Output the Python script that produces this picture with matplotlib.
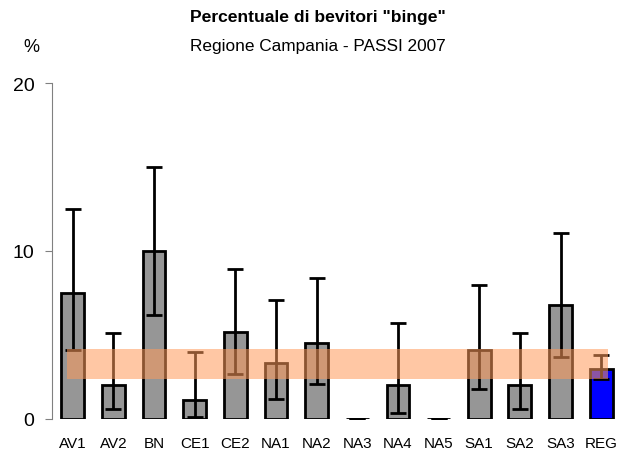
import matplotlib.pyplot as plt
import numpy as np

plt.rcParams['font.family'] = ['Liberation Sans', 'DejaVu Sans']

# Percentuale di bevitori binge per ASL, con intervalli di confidenza al 95%
asl = ['AV1', 'AV2', 'BN', 'CE1', 'CE2', 'NA1', 'NA2', 'NA3', 'NA4', 'NA5',
       'SA1', 'SA2', 'SA3', 'REG']
perc = [7.5, 2.0, 10.0, 1.1, 5.2, 3.3, 4.5, 0.0, 2.0, 0.0, 4.1, 2.0, 6.8, 3.0]
ic_inf = [4.1, 0.6, 6.2, 0.1, 2.7, 1.2, 2.1, 0.0, 0.35, 0.0, 1.8, 0.6, 3.7, 2.4]
ic_sup = [12.5, 5.1, 15.0, 4.0, 8.9, 7.1, 8.4, 0.0, 5.7, 0.0, 8.0, 5.1, 11.1, 3.8]

# banda regionale
banda = (2.4, 4.15)

colori = ['#969696'] * (len(asl) - 1) + ['#0000ff']

fig = plt.figure(figsize=(6.24, 4.52), dpi=100)
ax = fig.add_axes([0.084, 0.071, 0.912, 0.743])

x = np.arange(len(asl))
perc = np.array(perc)
err = [perc - np.array(ic_inf), np.array(ic_sup) - perc]

ax.bar(x, perc, width=0.56, color=colori, edgecolor='black', linewidth=2, zorder=2)
ax.errorbar(x, perc, yerr=err, fmt='none', ecolor='black', elinewidth=2,
            capsize=5.5, capthick=2, zorder=3)

ax.fill_between([-0.15, 13.18], banda[0], banda[1], color='#ff9a5a',
                alpha=0.55, linewidth=0, zorder=4)

ax.set_xlim(-0.5, 13.5)
ax.set_ylim(0, 20)
ax.set_yticks([0, 10, 20])
ax.set_xticks(x)
ax.set_xticklabels(asl, fontsize=11)
ax.tick_params(axis='x', length=0, pad=12)
ax.tick_params(axis='y', length=5, color='#808080', labelsize=14, pad=8)

for s in ['top', 'right', 'bottom']:
    ax.spines[s].set_visible(False)
ax.spines['left'].set_color('#808080')

fig.text(0.51, 0.962, 'Percentuale di bevitori "binge"', ha='center',
         va='center', fontsize=12.6, fontweight='bold')
fig.text(0.51, 0.897, 'Regione Campania - PASSI 2007', ha='center',
         va='center', fontsize=12.4)
fig.text(0.05, 0.895, '%', ha='center', va='center', fontsize=13)

plt.savefig('out.png', dpi=100)
plt.close()
